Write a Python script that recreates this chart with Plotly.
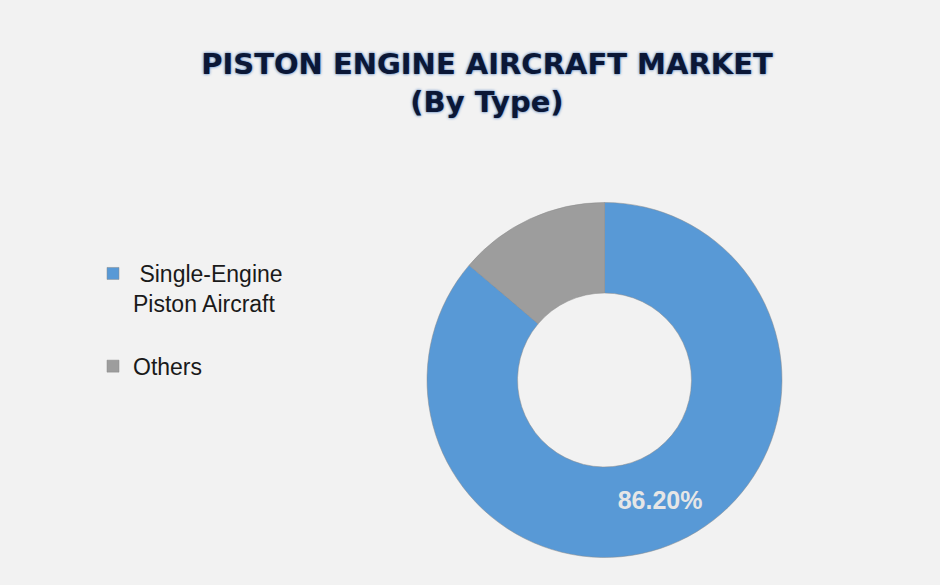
import plotly.graph_objects as go

categories = [" Single-Engine<br>Piston Aircraft<br> ", "Others"]
values = [86.2, 13.8]
colors = ["#5899d6", "#9d9d9d"]
shown_labels = [True, False]

text_labels = [f"{v:.2f}%" if s else "" for v, s in zip(values, shown_labels)]

W, H = 940, 585
cx, cy, r = 604.5, 380, 177.5

fig = go.Figure(go.Pie(
    labels=categories,
    values=values,
    text=text_labels,
    textinfo="text",
    textposition="inside",
    insidetextorientation="horizontal",
    textfont=dict(family="Liberation Sans, Arial, sans-serif", size=25, color="#e6e6e6", weight="bold"),
    hole=0.49,
    sort=False,
    direction="clockwise",
    rotation=0,
    marker=dict(colors=colors, line=dict(color="#8a8a8a", width=0.5)),
    domain=dict(x=[(cx - r) / W, (cx + r) / W], y=[(H - cy - r) / H, (H - cy + r) / H]),
    hoverinfo="label+percent",
))

fig.update_layout(
    width=W, height=H,
    margin=dict(l=0, r=0, t=0, b=0),
    paper_bgcolor="#f2f2f2",
    plot_bgcolor="#f2f2f2",
    title=dict(
        text="PISTON ENGINE AIRCRAFT MARKET<br>(By Type)",
        x=487 / W, xanchor="center",
        y=1 - 74 / H, yanchor="top",
        font=dict(family="DejaVu Sans, Verdana, sans-serif", size=29, color="#0b1736",
                  weight="bold", shadow="0px 0px 3px #2f66b3"),
    ),
    legend=dict(
        x=93 / W, xanchor="left",
        y=1 - 252 / H, yanchor="top",
        valign="top",
        font=dict(family="Liberation Sans, Arial, sans-serif", size=23, color="#1a1a1a"),
        bgcolor="rgba(0,0,0,0)",
        tracegroupgap=0,
    ),
    showlegend=True,
)

fig.write_html(
    "out.html",
    config={"displayModeBar": False},
    post_script="document.body.style.margin='0';document.body.style.background='#f2f2f2';",
)
